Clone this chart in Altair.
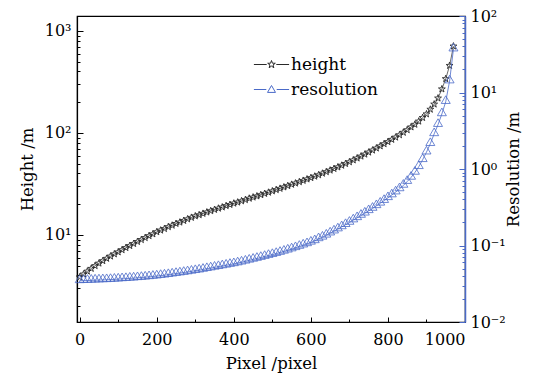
import altair as alt
import pandas as pd

pixel = list(range(0, 971, 10))

height = [3.86, 4.12, 4.40, 4.68, 4.98, 5.27, 5.57, 5.87, 6.18, 6.49, 6.79,
          7.13, 7.48, 7.83, 8.20, 8.59, 8.97, 9.38, 9.79, 10.2, 10.7,
          11.1, 11.5, 12.0, 12.4, 12.9, 13.3, 13.8, 14.3, 14.8, 15.3,
          15.7, 16.2, 16.7, 17.2, 17.7, 18.2, 18.7, 19.3, 19.8, 20.4,
          20.9, 21.5, 22.1, 22.8, 23.4, 24.0, 24.7, 25.4, 26.1, 26.9,
          27.7, 28.5, 29.4, 30.3, 31.2, 32.1, 33.1, 34.1, 35.2, 36.3,
          37.5, 38.7, 40.1, 41.5, 43.0, 44.6, 46.2, 48.0, 49.9, 51.9,
          54.1, 56.5, 59.0, 61.7, 64.6, 67.6, 70.8, 74.3, 78.0, 81.8,
          86.1, 90.6, 95.5, 101, 107, 114, 121, 130, 141, 153,
          170, 191, 219, 269, 339, 457, 708]

resolution = [0.0345, 0.0347, 0.0348, 0.0350, 0.0352, 0.0353, 0.0355, 0.0356, 0.0358, 0.0361, 0.0363,
              0.0366, 0.0368, 0.0372, 0.0374, 0.0378, 0.0381, 0.0385, 0.0389, 0.0394, 0.0398,
              0.0404, 0.0409, 0.0415, 0.0422, 0.0429, 0.0436, 0.0443, 0.0451, 0.0459, 0.0468,
              0.0476, 0.0486, 0.0497, 0.0507, 0.0518, 0.0528, 0.0540, 0.0551, 0.0564, 0.0575,
              0.0590, 0.0605, 0.0622, 0.0640, 0.0658, 0.0676, 0.0695, 0.0716, 0.0738, 0.0759,
              0.0783, 0.0809, 0.0838, 0.0867, 0.0899, 0.0933, 0.0970, 0.101, 0.105, 0.110,
              0.115, 0.122, 0.128, 0.136, 0.145, 0.154, 0.164, 0.175, 0.187, 0.200,
              0.215, 0.230, 0.247, 0.264, 0.284, 0.305, 0.330, 0.356, 0.386, 0.420,
              0.457, 0.499, 0.549, 0.610, 0.684, 0.776, 0.902, 1.07, 1.32, 1.66,
              2.14, 2.88, 3.80, 5.25, 7.59, 14.1, 36.9]

series_names = ["height", "resolution"]
series_colors = ["#2a2a2a", "#4a6ac8"]

x_ticks = [0, 100, 200, 300, 400, 500, 600, 700, 800, 900, 1000]
left_ticks = [2, 3, 4, 5, 6, 7, 8, 9, 10, 20, 30, 40, 50, 60, 70, 80, 90,
              100, 200, 300, 400, 500, 600, 700, 800, 900, 1000]
right_ticks = [0.01, 0.02, 0.03, 0.04, 0.05, 0.06, 0.07, 0.08, 0.09,
               0.1, 0.2, 0.3, 0.4, 0.5, 0.6, 0.7, 0.8, 0.9,
               1, 2, 3, 4, 5, 6, 7, 8, 9, 10, 20, 30, 40, 50, 60, 70, 80, 90, 100]

df = pd.DataFrame({"pixel": pixel, "height": height, "resolution": resolution})
leg_df = pd.DataFrame({"series": series_names})

FONT = "DejaVu Serif"
BLUE = series_colors[1]

STAR = ("M0,-1L0.235,-0.324L0.951,-0.309L0.380,0.124L0.588,0.809L0,0.4"
        "L-0.588,0.809L-0.380,0.124L-0.951,-0.309L-0.235,-0.324Z")
TRI = "M0,-1.3L1,0.4L-1,0.4Z"
STAR_LEG = "M-4.4,0H-1.2M1.2,0H4.4" + STAR
TRI_LEG = "M-4.4,0H-1.3M1.3,0H4.4M0,-1L1,0.73L-1,0.73Z"

x_axis = alt.Axis(
    values=x_ticks, format="d",
    labelExpr="datum.value % 200 === 0 ? datum.label : ''",
    tickSize={"condition": {"test": "datum.value % 200 === 0", "value": -5}, "value": -3},
    labelPadding=14, title="Pixel /pixel", titlePadding=8,
    grid=False, domainColor="black", tickColor="black",
)

left_axis = alt.Axis(
    orient="left", values=left_ticks,
    labelExpr="datum.value === 10 ? '10¹' : datum.value === 100 ? '10²' : datum.value === 1000 ? '10³' : ''",
    tickSize={"condition": {"test": "indexof([10,100,1000], datum.value) >= 0", "value": -6}, "value": -3},
    labelPadding=12, title="Height /m", titlePadding=9,
    grid=False, domainColor="black", tickColor="black",
)

right_axis = alt.Axis(
    orient="right", values=right_ticks,
    labelExpr=("datum.value === 0.01 ? '10⁻²' : datum.value === 0.1 ? '10⁻¹' : datum.value === 1 ? '10⁰'"
               " : datum.value === 10 ? '10¹' : datum.value === 100 ? '10²' : ''"),
    tickSize={"condition": {"test": "indexof([0.01,0.1,1,10,100], datum.value) >= 0", "value": -6}, "value": -3},
    labelPadding=11, title="Resolution /m", titlePadding=16, titleAngle=270,
    grid=False, domainColor=BLUE, domainWidth=1.5, tickColor=BLUE,
)

xenc = alt.X("pixel:Q", scale=alt.Scale(domain=[-7, 1000], nice=False, zero=False), axis=x_axis)
y_left = alt.Y("height:Q", scale=alt.Scale(type="log", domain=[1.4, 1400], nice=False), axis=left_axis)
y_right = alt.Y("resolution:Q", scale=alt.Scale(type="log", domain=[0.01, 100], nice=False), axis=right_axis)

base = alt.Chart(df)
h_line = base.mark_line(color="#444444", strokeWidth=0.8).encode(x=xenc, y=y_left)
h_pts = base.mark_point(shape=STAR, size=52, filled=False, color=series_colors[0],
                        strokeWidth=0.9, opacity=1).encode(x=xenc, y=y_left)
r_line = base.mark_line(color=BLUE, strokeWidth=0.8).encode(x=xenc, y=y_right)
r_pts = base.mark_point(shape=TRI, size=81, filled=False, color=BLUE,
                        strokeWidth=0.8, opacity=1).encode(x=xenc, y=y_right)

legend = alt.Legend(orient="none", legendX=186, legendY=40, title=None,
                    labelFont=FONT, labelFontSize=17, labelColor="black",
                    symbolSize=64, symbolStrokeWidth=1, symbolOpacity=1,
                    labelOffset=11, rowPadding=7, padding=0)
leg = alt.Chart(leg_df).mark_point(filled=False, opacity=0).encode(
    shape=alt.Shape("series:N", scale=alt.Scale(domain=series_names, range=[STAR_LEG, TRI_LEG]), legend=legend),
    color=alt.Color("series:N", scale=alt.Scale(domain=series_names, range=series_colors), legend=legend),
)

chart = alt.layer(
    alt.layer(h_line, h_pts),
    alt.layer(r_line, r_pts),
    leg,
).resolve_scale(y="independent").properties(
    width=388, height=306,
    padding={"left": 11, "top": 0, "right": 5, "bottom": 4},
).configure(background="white").configure_view(stroke="black", strokeWidth=1.2).configure_axis(
    labelFont=FONT, labelFontSize=16, labelColor="black",
    titleFont=FONT, titleFontSize=16.5, titleFontWeight="normal", titleColor="black",
    tickWidth=1, domainWidth=1.2,
)

chart.save("out.html", embed_options={"renderer": "svg", "actions": False})
